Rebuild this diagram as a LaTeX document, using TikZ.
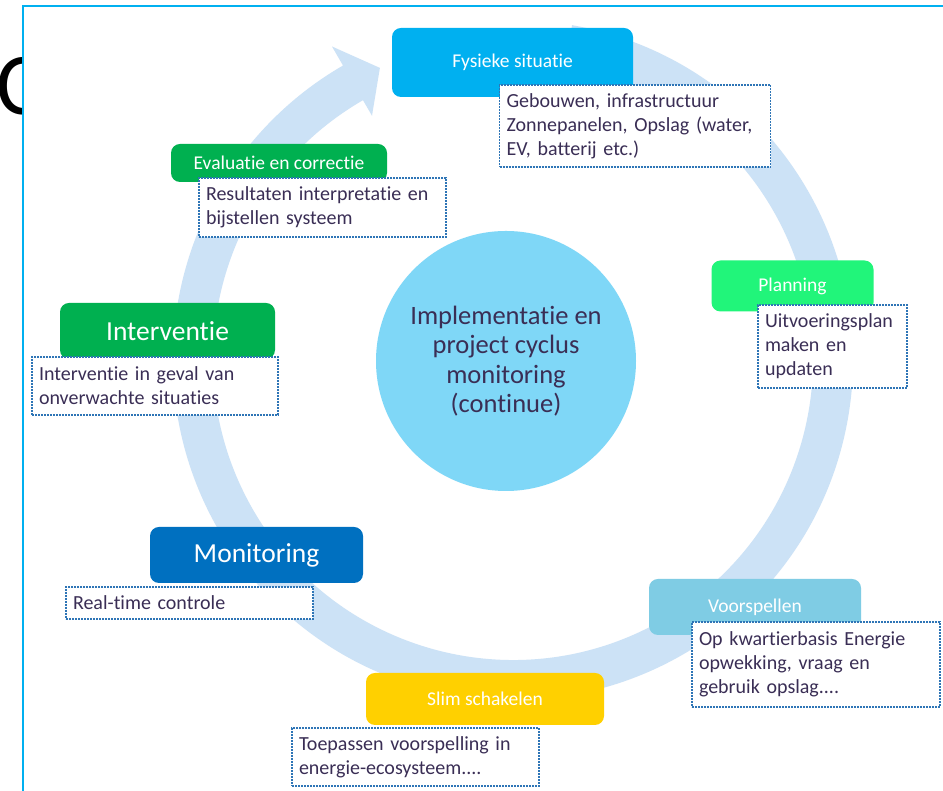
\documentclass[tikz,border=0pt]{standalone}
\usepackage{fontspec}
\setmainfont{Carlito}[Ligatures=NoCommon]
\definecolor{framecol}{HTML}{00B0F0}
\definecolor{ringcol}{HTML}{CCE2F6}
\definecolor{hubcol}{HTML}{7FD7F7}
\definecolor{physcol}{HTML}{00B0F0}
\definecolor{plancol}{HTML}{21F57A}
\definecolor{forecol}{HTML}{7FCCE4}
\definecolor{switchcol}{HTML}{FFD000}
\definecolor{moncol}{HTML}{0070C0}
\definecolor{greencol}{HTML}{00B050}
\definecolor{desctext}{HTML}{3A2E55}
\definecolor{descline}{HTML}{2E75B6}
\tikzset{
  titlebox/.style={rounded corners=9pt, inner sep=0pt, text=white,
    font=\fontsize{19.5}{22}\selectfont},
  bigtitle/.style={titlebox, font=\fontsize{27.5}{31}\selectfont},
  descbox/.style={draw=descline, line width=1.1pt, dash pattern=on 2pt off 1pt,
    fill=white, text=desctext, align=left, inner xsep=7pt, inner ysep=0pt,
    font=\fontsize{20}{24}\selectfont},
}
\begin{document}
\begin{tikzpicture}[x=1pt,y=1pt]
\useasboundingbox (0,0) rectangle (943,791);
\clip (0,0) rectangle (943,791);
% large letter partly hidden behind the frame
\node[anchor=base west, inner sep=0pt, font=\fontsize{88}{90}\selectfont] (bigc) at (-4,676) {C};
% frame
\draw[framecol, line width=2pt, fill=white] (23,-10) rectangle (960,785);
% circular arrow band
\begin{scope}[shift={(513,431)}]
\fill[ringcol] (80:340) arc[start angle=80, end angle=-240, radius=340]
  -- (120:362) -- (114.5:321) -- (120:282) -- (120:300)
  arc[start angle=-240, end angle=80, radius=300] -- cycle;
\end{scope}
% centre circle
\node[circle, fill=hubcol, minimum size=260pt, inner sep=0pt, align=center,
  text=desctext, font=\fontsize{26.5}{29.5}\selectfont] (hub) at (506,430)
  {Implementatie en\\project cyclus\\monitoring\\(continue)};
% step titles
\node[titlebox, fill=physcol, minimum width=241pt, minimum height=69pt] (phys) at (512.5,728.5) {Fysieke situatie};
\node[titlebox, fill=plancol, minimum width=162pt, minimum height=51pt] (plan) at (792.5,505) {Planning};
\node[titlebox, fill=forecol, minimum width=212pt, minimum height=56pt] (fore) at (755,184) {Voorspellen};
\node[titlebox, fill=switchcol, minimum width=238pt, minimum height=52pt] (switch) at (485,92) {Slim schakelen};
\node[bigtitle, fill=moncol, minimum width=213pt, minimum height=56pt] (mon) at (256.5,236) {Monitoring};
\node[bigtitle, fill=greencol, minimum width=215pt, minimum height=56pt] (interv) at (167.5,460) {Interventie};
\node[titlebox, fill=greencol, minimum width=216pt, minimum height=38pt] (eval) at (279,628) {Evaluatie en correctie};
% step descriptions
\node[descbox, text width=257pt, minimum height=82pt] (physd) at (635,665) {Gebouwen, infrastructuur\\Zonnepanelen, Opslag (water,\\EV, batterij etc.)};
\node[descbox, text width=135pt, minimum height=83pt] (pland) at (832.5,444.5) {Uitvoeringsplan\\maken en\\updaten};
\node[descbox, text width=234pt, minimum height=85pt] (fored) at (816,126.5) {Op kwartierbasis Energie\\opwekking, vraag en\\gebruik opslag....};
\node[descbox, text width=233pt, minimum height=58pt] (switchd) at (415.5,34) {Toepassen voorspelling in\\energie-ecosysteem....};
\node[descbox, text width=233pt, minimum height=32pt] (mond) at (189.5,188) {Real-time controle};
\node[descbox, text width=232pt, minimum height=58pt] (intervd) at (155,405) {Interventie in geval van\\onverwachte situaties};
\node[descbox, text width=233pt, minimum height=59pt] (evald) at (322.5,583.5) {Resultaten interpretatie en\\bijstellen systeem};
\end{tikzpicture}
\end{document}
